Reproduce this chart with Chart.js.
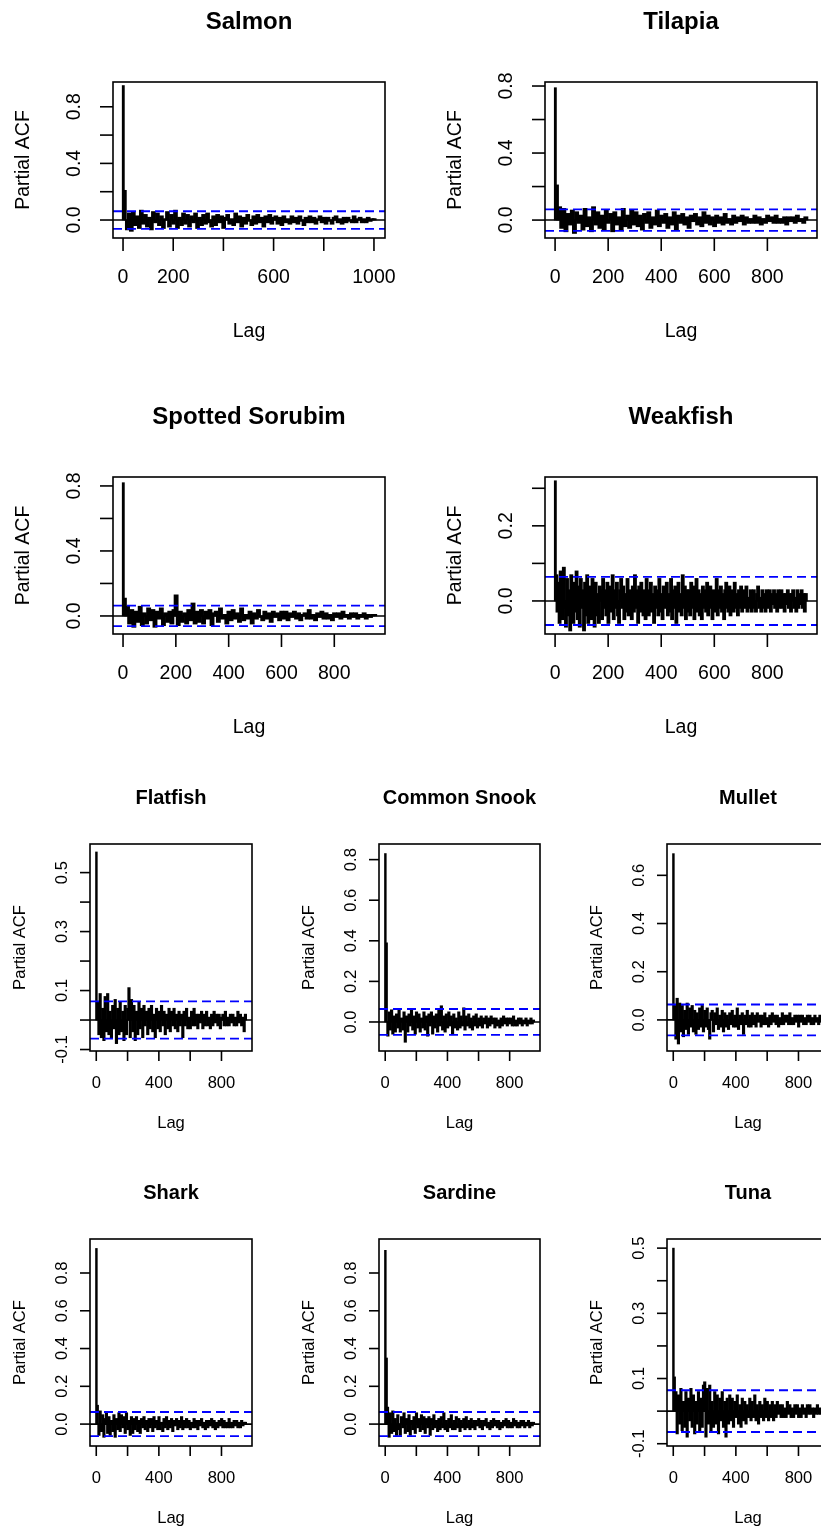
<!DOCTYPE html>
<html>
<head>
<meta charset="utf-8">
<script src="https://cdn.jsdelivr.net/npm/chart.js@4.4.1/dist/chart.umd.min.js"></script>
<style>
  html, body { margin: 0; padding: 0; background: #fff; }
  #page { position: relative; width: 821px; height: 1530px; overflow: hidden; background: #fff; }
  #page canvas { position: absolute; }
</style>
</head>
<body>
<div id="page"></div>
<script>
// Datos: PACF, un valor cada lagSteps[i] lags (lag 1, 1+step, ...)
const titles = ['Salmon', 'Tilapia', 'Spotted Sorubim', 'Weakfish', 'Flatfish',
                'Common Snook', 'Mullet', 'Shark', 'Sardine', 'Tuna'];
const lagSteps = [8, 8, 8, 4, 8, 8, 8, 8, 8, 8];

const salmonPacf = [.95,.21,
  -.07,.05,-.08,.06,-.04,.03,-.06,.07,-.03,.04,-.05,.02,-.07,.06,-.02,.05,-.04,.03,-.06,.01,.06,-.05,.04,-.03,.07,-.06,.02,-.04,.05,-.03,
  .04,-.05,.03,-.02,.05,-.06,.02,-.04,.04,-.03,.05,-.02,-.05,.03,-.04,.04,-.02,.03,-.06,.02,.04,-.03,.01,-.04,.05,-.02,.03,-.05,.02,-.03,.04,-.01,-.04,.03,-.03,.04,-.02,.02,-.05,.03,-.02,.04,-.03,.02,
  .03,-.03,.02,-.04,.03,-.02,.01,-.03,.03,-.02,.02,-.03,.03,-.01,-.04,.02,-.02,.03,-.02,.02,-.03,.01,.03,-.02,.02,-.03,.02,-.01,-.03,.02,.03,-.02,.01,-.03,.02,-.02,.02,-.01,-.02,.03,-.02,.01,.02,-.02,.01,-.02,.02,-.01,.01,.01];

const tilapiaPacf = [.79,.21,
  .08,-.05,.07,-.07,.04,-.03,.06,-.08,.05,-.02,.03,-.06,.07,-.04,.02,-.07,.08,-.03,.05,-.05,.03,-.06,.06,-.02,.04,-.07,.05,-.03,.02,-.06,.07,-.04,.03,-.05,.06,-.03,
  .05,-.04,.03,-.06,.04,-.02,.05,-.05,.02,-.03,.06,-.04,.03,-.02,.04,-.05,.02,-.03,.05,-.06,.03,-.02,.04,-.03,.02,-.05,.03,-.01,.04,-.03,.02,-.04,.05,-.02,.03,-.03,.02,-.04,
  .03,-.02,.02,-.03,.04,-.02,.01,-.03,.03,-.02,.02,-.01,.03,-.03,.02,-.02,.01,-.02,.03,-.02,.02,-.03,.01,-.02,.03,-.01,.02,-.02,.03,-.02,.01,-.02,.02,-.03,.02,-.01,.02,-.02,.03,-.01,.01,-.02,.02];

const sorubimPacf = [.82,.11,
  .06,-.05,.04,-.07,.03,-.04,.06,-.06,.02,-.05,.05,-.03,.04,-.07,.03,-.02,.05,-.06,.02,-.04,.03,-.05,.04,
  .13,
  -.06,.03,-.04,.02,-.05,.04,-.03,.08,-.05,.03,-.04,.04,
  -.05,.03,-.02,.04,-.06,.02,.03,-.04,.05,-.02,.01,-.05,.03,-.03,.04,-.02,.02,-.04,.05,-.03,.01,-.02,.03,-.05,.02,-.02,.04,-.01,-.03,.03,-.02,.02,-.04,.03,-.01,.02,-.03,.03,
  -.02,.03,-.03,.02,-.01,.03,-.02,.02,-.03,.01,.02,-.02,.04,-.02,.01,-.03,.02,-.01,.03,-.02,.02,-.02,.01,-.03,.02,-.01,.02,-.02,.03,-.01,.01,-.02,.02,-.01,.02,-.02,.01,-.01,.02,-.02,.01,-.01,.01,.01];

const weakfishPacf = [.32,
  .07,-.03,.05,-.06,.08,.04,-.05,.09,-.02,-.07,.06,-.04,.03,-.08,.07,.02,-.06,.05,-.03,.08,-.05,.04,-.07,.06,-.02,.03,-.08,.05,-.04,.07,-.06,.02,.04,-.05,.06,-.03,-.07,
  .05,-.04,.02,-.06,.04,.03,-.05,.06,-.02,.03,-.04,.05,-.06,.02,.04,-.03,.07,-.05,.03,-.02,.05,-.04,-.06,.03,.06,-.02,.04,-.05,.02,-.03,
  .06,-.04,.03,.01,-.05,.04,-.03,.07,-.02,.03,-.06,.04,-.03,.05,.02,-.04,.03,-.05,.06,-.02,-.04,.03,.05,-.03,.02,-.06,.04,-.02,.03,-.04,
  .06,-.03,.02,-.05,.04,.03,-.02,.05,-.04,.02,-.03,.06,-.05,.03,-.02,.04,-.06,.03,.05,-.03,.02,-.04,.07,-.02,.04,-.05,.03,-.03,
  .03,-.04,.05,-.02,.04,-.05,.02,.06,-.03,.03,-.04,.02,-.05,.04,-.02,.03,-.03,.05,-.04,.02,.04,-.02,-.05,.03,.02,-.03,.06,-.04,.03,-.02,
  .04,-.03,.02,-.05,.03,.05,-.02,-.03,.04,-.04,.02,.03,-.03,.05,-.02,.02,-.04,.03,-.02,.04,
  -.03,.02,.03,-.02,.04,-.03,.01,-.02,.03,-.03,.02,.03,-.02,-.03,.02,.04,-.02,.01,-.03,.03,-.02,.02,-.03,.03,.01,-.02,.03,-.03,.02,-.01,
  .03,-.02,.02,-.03,.03,-.02,.01,.03,-.02,.02,-.03,.02,-.01,.03,-.02,.02,-.03,.02,.03,-.02,.01,-.03,.03,-.02,.02,-.01,.03,-.02,.02,-.03,.02];

const flatfishPacf = [.57,
  .06,-.05,.09,-.06,.04,-.07,.08,-.04,.09,-.05,.03,-.06,.05,-.03,.07,-.08,.04,-.05,.06,-.04,.03,-.07,.05,-.05,.04,
  .11,
  -.06,.07,-.04,.05,-.07,.03,-.05,.06,-.03,.04,-.06,.05,-.02,.03,-.05,.04,-.03,.05,-.04,.02,-.06,.04,-.03,.03,-.04,.05,-.02,.03,-.05,.02,-.03,.04,-.04,.03,
  -.02,.04,-.03,.02,-.04,.03,-.02,.02,-.06,.03,-.02,.04,-.03,.01,-.03,.03,-.02,.04,-.02,.02,-.03,.02,-.01,.03,-.03,.02,-.02,.03,-.02,.01,-.03,.02,-.02,.03,-.01,.02,-.02,.02,-.03,.01,.02,-.02,.03,-.02,.01,-.02,.02,-.01,.02,-.02,.01,-.02,.03,-.01,.02,-.02,.01,-.04,.02];

const snookPacf = [.83,.39,
  -.07,.05,-.04,.06,-.06,.03,-.05,.04,-.03,.06,-.05,.02,-.04,.05,-.10,.03,-.05,.04,-.02,.06,-.04,.03,-.06,.05,-.03,.04,-.05,.02,-.03,
  .05,-.04,.03,-.07,.04,-.02,.05,-.06,.03,-.03,.04,-.05,.06,-.02,.08,-.04,.03,-.05,.04,-.03,.05,-.02,.03,-.06,.04,-.03,.02,-.04,.05,-.03,.03,-.02,.07,-.04,.03,-.02,.04,-.03,.02,-.04,
  .03,-.02,.04,-.03,.02,-.02,.03,-.03,.02,-.01,.03,-.03,.02,-.02,.03,-.01,.02,-.03,.02,-.02,.01,-.03,.02,-.02,.03,-.01,.02,-.02,.02,-.01,.02,-.02,.03,-.02,.01,-.02,.02,-.01,.02,-.02,.01,-.01,.02,-.02,.01,-.01,.02,-.01,.01];

const mulletPacf = [.69,
  .06,-.08,.09,-.10,.07,-.05,.06,-.07,.04,-.04,.07,-.06,.05,-.03,.06,-.05,.04,-.06,.03,-.04,.05,-.03,.06,-.05,.04,-.03,.05,-.04,-.08,.03,
  .04,-.05,.03,-.02,.05,-.04,.02,-.03,.04,-.05,.03,-.03,.02,-.04,.03,-.02,.04,-.03,.02,-.03,.05,-.04,.02,-.02,.03,-.06,.02,-.02,.04,-.03,.02,-.03,.03,-.02,.02,-.03,.03,-.01,.02,-.03,
  .02,-.02,.03,-.02,.01,-.03,.02,-.02,.03,-.01,.02,-.02,.02,-.03,.01,-.02,.03,-.02,.02,-.01,.02,-.02,.03,-.02,.01,-.02,.02,-.01,.02,-.03,.02,-.01,.02,-.02,.01,-.02,.02,-.01,.02,-.02,.01,-.02,.02,-.01,.01,-.02,.02,-.01,.01];

const sharkPacf = [.93,.10,
  -.06,.07,-.04,.05,-.07,.03,.06,-.05,.04,-.06,.02,-.04,.05,-.07,.03,-.03,.06,-.04,.05,-.02,.04,-.05,.06,-.03,.02,-.06,.04,-.05,.03,
  -.03,.04,-.04,.02,-.05,.03,-.02,.04,-.03,.02,-.04,.03,-.02,.03,-.04,.04,-.02,.02,-.03,.04,-.03,.01,-.04,.03,-.02,.04,-.03,.02,-.02,.03,-.04,.02,-.01,.03,-.03,.02,-.02,.04,-.03,.02,
  -.02,.03,-.02,.02,-.03,.01,-.02,.03,-.02,.02,-.03,.02,-.01,.03,-.02,.01,-.03,.02,-.02,.02,-.01,.03,-.02,.02,-.03,.01,-.02,.02,-.01,.03,-.02,.02,-.02,.01,-.02,.03,-.02,.01,-.02,.02,-.01,.02,-.02,.01,-.02,.02,-.01,.01,.01];

const sardinePacf = [.92,.35,.09,
  -.07,.06,-.05,.07,-.04,.03,-.06,.05,-.03,-.06,.04,-.02,.06,-.05,.03,-.04,.05,-.06,.02,-.03,.04,-.05,.06,-.02,.03,-.04,.05,-.03,
  .04,-.05,.03,-.02,.04,-.06,.03,-.03,.05,-.02,.02,-.04,.03,-.03,.04,-.02,.06,-.03,.02,-.04,.03,-.02,.05,-.03,.02,-.03,.04,-.02,.03,-.04,.02,-.02,.03,-.03,.04,-.02,.02,-.03,.03,-.02,
  .02,-.03,.02,-.01,.03,-.02,.02,-.03,.02,-.01,.03,-.02,.01,-.03,.02,-.02,.03,-.01,.02,-.02,.02,-.03,.01,-.02,.02,-.01,.03,-.02,.02,-.02,.01,-.02,.03,-.01,.02,-.02,.01,-.02,.02,-.01,.02,-.02,.01,-.01,.02,-.02,.01,-.01,.01];

const tunaPacf = [.50,.105,
  .06,-.07,.05,-.04,.07,-.06,.03,-.05,.06,-.08,.04,-.03,.07,-.05,.05,-.07,.03,-.04,.06,-.06,.04,-.05,.08,.09,-.08,.07,-.04,.08,-.06,.03,-.05,.06,-.04,.05,-.07,.04,-.03,.06,-.05,.03,-.08,.04,-.04,.05,
  -.03,.04,-.05,.03,-.02,.05,-.04,.02,-.05,.04,-.03,.03,-.04,.02,-.02,.04,-.03,.03,-.02,.05,-.03,.02,-.04,.03,-.02,.02,-.03,.04,-.02,.03,-.03,.02,-.02,.03,-.03,
  .02,-.02,.03,-.01,.02,-.02,.02,-.02,.01,-.02,.03,-.01,.02,-.02,.01,-.02,.02,-.01,.02,-.02,.01,-.02,.02,-.01,.01,-.02,.02,-.01,.02,-.01,.01,-.02,.01,-.01,.02,-.01,.01,-.01,.01];

const pacfSeries = [salmonPacf, tilapiaPacf, sorubimPacf, weakfishPacf, flatfishPacf,
                    snookPacf, mulletPacf, sharkPacf, sardinePacf, tunaPacf];
// cuantos lags iniciales son picos grandes (se dibujan mas finos)
const spikeCounts = [2, 2, 2, 1, 1, 2, 1, 2, 3, 2];

// limites de confianza (+/-) y rangos de los ejes
const ciBounds = [.062, .064, .063, .064, .063, .064, .064, .064, .064, .064];
const xRanges = [[-40,1044],[-38,987],[-38,992],[-38,987],[-40,995],[-40,995],[-40,995],[-40,995],[-40,995],[-40,995]];
const yRanges = [[-.127,.975],[-.107,.824],[-.111,.855],[-.088,.33],[-.105,.597],
                 [-.143,.877],[-.129,.73],[-.116,.98],[-.116,.98],[-.107,.528]];

// ticks y etiquetas ('' = tick sin etiqueta)
const xTicksBig = [0, 200, 400, 600, 800, 1000];
const xLabelsSalmon = ['0', '200', '', '600', '', '1000'];
const xLabelsBig = ['0', '200', '400', '600', '800'];
const xLabelsSmall = ['0', '', '400', '', '800'];
const yTicks0to8 = [0, .2, .4, .6, .8];
const yTicks0to6 = [0, .2, .4, .6];
const yTicks0to3 = [0, .1, .2, .3];
const yTicksM1to5 = [-.1, 0, .1, .2, .3, .4, .5];
const yLabelsAlt8 = ['0.0', '', '0.4', '', '0.8'];
const yLabelsAll8 = ['0.0', '0.2', '0.4', '0.6', '0.8'];
const yLabelsAll6 = ['0.0', '0.2', '0.4', '0.6'];
const yLabelsWeak = ['0.0', '', '0.2', ''];
const yLabelsM1to5 = ['-0.1', '', '0.1', '', '0.3', '', '0.5'];

const yTicksList = [yTicks0to8, yTicks0to8, yTicks0to8, yTicks0to3, yTicksM1to5,
                    yTicks0to8, yTicks0to6, yTicks0to8, yTicks0to8, yTicksM1to5];
const yLabelsList = [yLabelsAlt8, yLabelsAlt8, yLabelsAlt8, yLabelsWeak, yLabelsM1to5,
                     yLabelsAll8, yLabelsAll6, yLabelsAll8, yLabelsAll8, yLabelsM1to5];
const xLabelsList = [xLabelsSalmon, xLabelsBig, xLabelsBig, xLabelsBig, xLabelsSmall,
                     xLabelsSmall, xLabelsSmall, xLabelsSmall, xLabelsSmall, xLabelsSmall];

// Disposicion: celda del canvas y caja del grafico (coordenadas de pagina)
const cells = [
  [0, 0, 432, 390], [432, 0, 432, 390],
  [0, 390, 432, 385], [432, 390, 432, 385],
  [0, 775, 289, 385], [289, 775, 289, 385], [578, 775, 289, 385],
  [0, 1160, 289, 370], [289, 1160, 289, 370], [578, 1160, 289, 370]
];
const boxes = [
  [113, 82, 385, 238], [545, 82, 817, 238],
  [113, 477, 385, 634], [545, 477, 817, 634],
  [90, 844, 252, 1051], [379, 844, 540, 1051], [667, 844, 829, 1051],
  [90, 1239, 252, 1446], [379, 1239, 540, 1446], [667, 1239, 829, 1446]
];

const FONT = '"Liberation Sans", Arial, sans-serif';
const bigStyle = { title: 24, text: 19.5, tick: 13, titleOff: 60, yTickOff: 38, yLabOff: 89, xTickOff: 40, xLabOff: 94, spike: 2.2, minNoise: 3.2 };
const smallStyle = { title: 20, text: 16.6, tick: 10, titleOff: 46, yTickOff: 28, yLabOff: 70, xTickOff: 32, xLabOff: 72, spike: 1.8, minNoise: 2.4 };

function rAxesPlugin(idx, st) {
  return {
    id: 'rAxes' + idx,
    afterDraw(chart) {
      const ctx = chart.ctx;
      const { left, top, right, bottom } = chart.chartArea;
      const xs = chart.scales.x, ys = chart.scales.y;
      ctx.save();
      ctx.strokeStyle = '#000';
      ctx.fillStyle = '#000';
      ctx.lineWidth = 1.6;
      ctx.strokeRect(left, top, right - left, bottom - top);

      // eje x
      ctx.font = st.text + 'px ' + FONT;
      ctx.textAlign = 'center';
      ctx.textBaseline = 'middle';
      const xl = xLabelsList[idx];
      xTicksBig.forEach((t, k) => {
        if (k >= xl.length) return;
        const px = xs.getPixelForValue(t);
        ctx.beginPath();
        ctx.moveTo(px, bottom);
        ctx.lineTo(px, bottom + st.tick);
        ctx.stroke();
        if (xl[k]) ctx.fillText(xl[k], px, bottom + st.xTickOff);
      });

      // eje y (etiquetas giradas como en R)
      const yt = yTicksList[idx], yl = yLabelsList[idx];
      yt.forEach((v, k) => {
        const py = ys.getPixelForValue(v);
        ctx.beginPath();
        ctx.moveTo(left - st.tick, py);
        ctx.lineTo(left, py);
        ctx.stroke();
        if (yl[k]) {
          ctx.save();
          ctx.translate(left - st.yTickOff, py);
          ctx.rotate(-Math.PI / 2);
          ctx.fillText(yl[k], 0, 0);
          ctx.restore();
        }
      });

      // textos
      const cx = (left + right) / 2, cy = (top + bottom) / 2;
      ctx.fillText('Lag', cx, bottom + st.xLabOff);
      ctx.save();
      ctx.translate(left - st.yLabOff, cy);
      ctx.rotate(-Math.PI / 2);
      ctx.fillText('Partial ACF', 0, 0);
      ctx.restore();
      ctx.font = 'bold ' + st.title + 'px ' + FONT;
      ctx.fillText(titles[idx], cx, top - st.titleOff);
      ctx.restore();
    }
  };
}

function makePanel(idx) {
  const [cx, cy, cw, ch] = cells[idx];
  const [bl, bt, br, bb] = boxes[idx];
  const st = idx < 4 ? bigStyle : smallStyle;
  const canvas = document.createElement('canvas');
  canvas.width = cw;
  canvas.height = ch;
  canvas.style.left = cx + 'px';
  canvas.style.top = cy + 'px';
  canvas.style.width = cw + 'px';
  canvas.style.height = ch + 'px';
  document.getElementById('page').appendChild(canvas);

  const [xMin, xMax] = xRanges[idx];
  const [yMin, yMax] = yRanges[idx];
  const ci = ciBounds[idx];
  const step = lagSteps[idx];
  const bars = pacfSeries[idx].map((v, i) => ({ x: 1 + i * step, y: v }));
  const nSpike = spikeCounts[idx];
  // las barras de ruido se solapan con sus vecinas para formar la banda densa de R
  const noiseWidth = Math.max(2 * step * (br - bl) / (xMax - xMin), st.minNoise);
  const hline = y => [{ x: xMin, y: y }, { x: xMax, y: y }];

  new Chart(canvas.getContext('2d'), {
    type: 'bar',
    data: {
      datasets: [
        { type: 'bar', data: bars.slice(nSpike), backgroundColor: '#000', barThickness: noiseWidth, grouped: false, order: 3 },
        { type: 'bar', data: bars.slice(0, nSpike), backgroundColor: '#000', barThickness: st.spike, grouped: false, order: 2 },
        { type: 'line', data: hline(0), borderColor: '#000', borderWidth: 1.6, pointRadius: 0, order: 1 },
        { type: 'line', data: hline(ci), borderColor: '#0000ff', borderWidth: 1.8, borderDash: [9, 5], pointRadius: 0, order: 0 },
        { type: 'line', data: hline(-ci), borderColor: '#0000ff', borderWidth: 1.8, borderDash: [9, 5], pointRadius: 0, order: 0 }
      ]
    },
    options: {
      responsive: false,
      animation: false,
      events: [],
      layout: { padding: { left: bl - cx, top: bt - cy, right: cx + cw - br, bottom: cy + ch - bb } },
      scales: {
        x: { type: 'linear', min: xMin, max: xMax, display: false, offset: false },
        y: { type: 'linear', min: yMin, max: yMax, display: false }
      },
      plugins: { legend: { display: false }, tooltip: { enabled: false } }
    },
    plugins: [rAxesPlugin(idx, st)]
  });
}

for (let i = 0; i < titles.length; i++) makePanel(i);
</script>
</body>
</html>
